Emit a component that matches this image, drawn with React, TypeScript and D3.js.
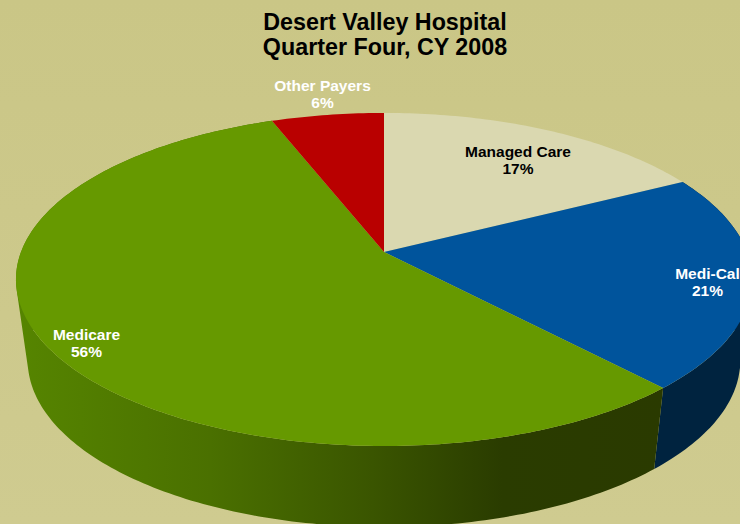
import React from "react";
import * as d3 from "d3";

const categories = ["Managed Care", "Medi-Cal", "Medicare", "Other Payers"];
const shares = [17.3, 20.9, 56, 5.8];
const topColors = ["#dad8b0", "#00549c", "#669900", "#b90000"];
const titleLines = ["Desert Valley Hospital", "Quarter Four, CY 2008"];
const labelColors = ["#000000", "#ffffff", "#ffffff", "#ffffff"];
const labelX = [518, 707.5, 86.5, 322.5];
const labelY = [157, 279, 340, 91];

const W = 740, H = 524;
const k = 0.165;
function project(theta: number, lower: boolean): [number, number] {
  const u = Math.sin(theta), v = -Math.cos(theta), w = 1 - k * v;
  const s = lower ? 0.968 : 1;
  const y0 = lower ? 333 : 252;
  return [384 + (s * 363 * u) / w, y0 + (162 * v) / w];
}

const pie = d3.pie<number>().sort(null).value((d) => d);
const arcs = pie(shares);
const line = d3.line();

function rim(a0: number, a1: number, lower: boolean) {
  const n = Math.max(2, Math.ceil((a1 - a0) * 60));
  return d3.range(n + 1).map((i) => project(a0 + ((a1 - a0) * i) / n, lower));
}

// wall drawn as a union of quads with one winding, so the silhouette between the two rims is filled
function side(a0: number, a1: number) {
  const t = rim(a0, a1, false), b = rim(a0, a1, true);
  return d3.range(t.length - 1).map((i) => {
    const quad: [number, number][] = [t[i], t[i + 1], b[i + 1], b[i]];
    if (d3.polygonArea(quad) < 0) quad.reverse();
    return line(quad) + "Z";
  }).join("");
}

export default function App() {
  return (
    <svg width={W} height={H} style={{ position: "absolute", left: 0, top: 0 }} fontFamily="'Liberation Sans', Arial, sans-serif">
      <defs>
        <linearGradient id="bg" x1="0" y1="0" x2="0" y2="1">
          <stop offset="0" stopColor="#cac686" />
          <stop offset="1" stopColor="#cfcb90" />
        </linearGradient>
        <linearGradient id="greenSide" gradientUnits="userSpaceOnUse" x1="16" y1="0" x2="664" y2="0">
          <stop offset="0" stopColor="#568500" />
          <stop offset="0.3" stopColor="#4a7000" />
          <stop offset="0.55" stopColor="#3a5500" />
          <stop offset="0.75" stopColor="#2a3c00" />
          <stop offset="1" stopColor="#2a3a00" />
        </linearGradient>
      </defs>
      <rect width={W} height={H} fill="url(#bg)" />
      <path d={side(arcs[1].startAngle, arcs[1].endAngle)} fill="#00233f" />
      <path d={side(arcs[2].startAngle, arcs[2].endAngle)} fill="url(#greenSide)" />
      {arcs.map((a, i) => (
        <path key={categories[i]} d={line([[384, 252], ...rim(a.startAngle, a.endAngle, false)])! + "Z"} fill={topColors[i]} />
      ))}
      {titleLines.map((t, i) => (
        <text key={t} x={385} y={30 + i * 25} textAnchor="middle" fontSize={23.3} fontWeight="bold" fill="#000">{t}</text>
      ))}
      {categories.map((c, i) => (
        <text key={c} textAnchor="middle" fontSize={15.5} fontWeight="bold" fill={labelColors[i]}>
          <tspan x={labelX[i]} y={labelY[i]}>{c}</tspan>
          <tspan x={labelX[i]} y={labelY[i] + 17}>{Math.round(shares[i])}%</tspan>
        </text>
      ))}
    </svg>
  );
}
